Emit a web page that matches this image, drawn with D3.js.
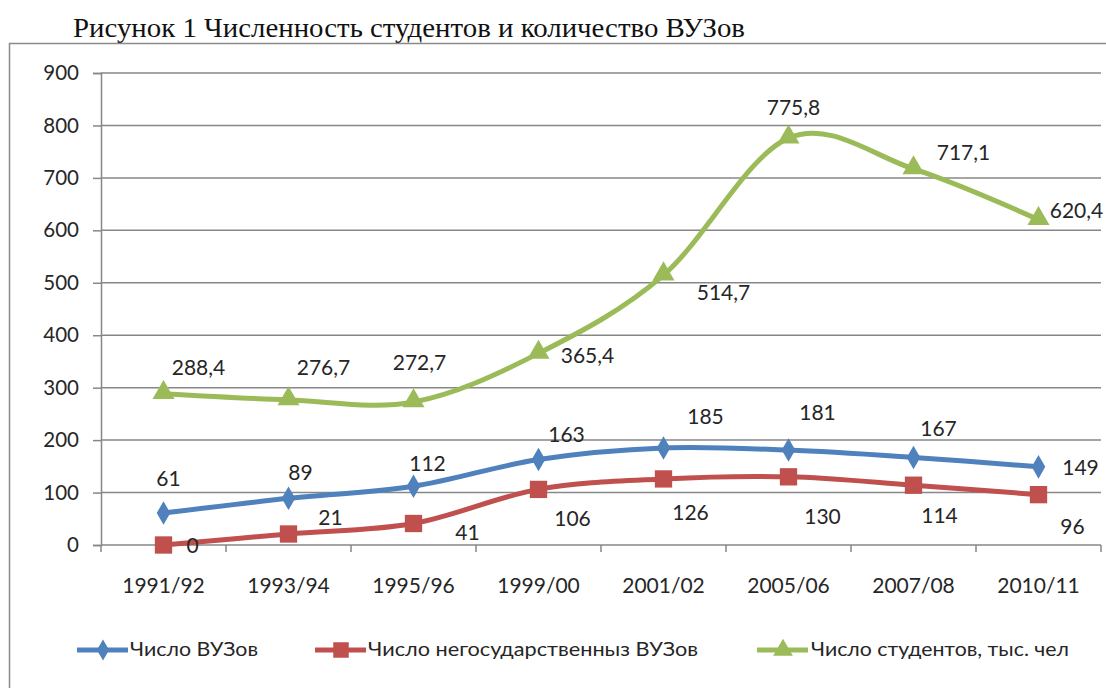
<!DOCTYPE html>
<html lang="ru">
<head>
<meta charset="UTF-8">
<title>Численность студентов и количество ВУЗов</title>
<script src="https://cdnjs.cloudflare.com/ajax/libs/d3/7.8.5/d3.min.js"></script>
<style>
    body { margin: 0; background: #fff; }
    svg { display: block; }
</style>
</head>
<body>
<div id="chart"></div>
<script>
    // data
    var categories = ["1991/92", "1993/94", "1995/96", "1999/00", "2001/02", "2005/06", "2007/08", "2010/11"];
    var vuzTotal = [61, 89, 112, 163, 185, 181, 167, 149];
    var vuzPrivate = [0, 21, 41, 106, 126, 130, 114, 96];
    var students = [288.4, 276.7, 272.7, 365.4, 514.7, 775.8, 717.1, 620.4];
    var yTicks = [0, 100, 200, 300, 400, 500, 600, 700, 800, 900];
    var seriesNames = ["Число ВУЗов", "Число негосударственныз ВУЗов", "Число студентов, тыс. чел"];

    // where each data label sits relative to its point (dx, dy) - layout only
    var offTotal = [[5,-34],[12,-26],[14,-23],[28,-25],[42,-31],[29,-37],[25,-29],[42,1]];
    var offPrivate = [[29,1],[42,-16],[54,9],[34,29],[27,34],[34,40],[26,30],[34,32]];
    var offStudents = [[35,-26],[35,-32],[6,-39],[49,2],[60,18],[5,-30],[50,-16],[38,-9]];

    var width = 1106, height = 688;
    var svg = d3.select("#chart").append("svg")
        .attr("width", width)
        .attr("height", height);

    // title above the frame
    svg.append("text")
        .attr("x", 73)
        .attr("y", 37)
        .attr("font-family", "Liberation Serif, Times New Roman, serif")
        .attr("font-size", 27)
        .attr("textLength", 672)
        .attr("lengthAdjust", "spacingAndGlyphs")
        .attr("fill", "#111")
        .text("Рисунок 1 Численность студентов и количество ВУЗов");

    // chart frame (runs off the right and bottom edges)
    svg.append("rect")
        .attr("x", 9.5).attr("y", 43.5)
        .attr("width", 1200).attr("height", 700)
        .attr("fill", "none")
        .attr("stroke", "#8a8a8a")
        .attr("stroke-width", 1.5);

    var x = d3.scaleBand().domain(categories).range([101, 1101]);
    var y = d3.scaleLinear().domain([0, 900]).range([545, 73]);
    var cx = function(c){ return x(c) + x.bandwidth() / 2; };

    var font = "Lato, Carlito, Calibri, sans-serif";
    var gray = "#878787";
    var ink = "#262626";

    // gridlines
    svg.append("g").selectAll("line")
        .data(yTicks)
        .enter().append("line")
        .attr("x1", 101).attr("x2", 1101)
        .attr("y1", function(d){ return y(d); })
        .attr("y2", function(d){ return y(d); })
        .attr("stroke", gray)
        .attr("stroke-width", 1.5);

    // y axis
    var yAxis = svg.append("g")
        .attr("transform", "translate(101,0)")
        .call(d3.axisLeft(y).tickValues(yTicks).tickSize(8).tickPadding(14));
    yAxis.select(".domain").attr("stroke", gray).attr("stroke-width", 1.5);
    yAxis.selectAll(".tick line").attr("stroke", gray).attr("stroke-width", 1.5);
    yAxis.selectAll(".tick text")
        .attr("font-family", font).attr("font-size", 20.5).attr("fill", ink);

    // x axis: labels centred, ticks on the band edges
    var xAxis = svg.append("g")
        .attr("transform", "translate(0,545)")
        .call(d3.axisBottom(x).tickSize(0).tickPadding(33));
    xAxis.select(".domain").remove();
    xAxis.selectAll(".tick text")
        .attr("font-family", font).attr("font-size", 21).attr("fill", ink);
    var edges = categories.map(function(c){ return x(c); }).concat([x.range()[1]]);
    svg.append("g").selectAll("line")
        .data(edges)
        .enter().append("line")
        .attr("x1", function(d){ return d; }).attr("x2", function(d){ return d; })
        .attr("y1", 545).attr("y2", 552)
        .attr("stroke", gray).attr("stroke-width", 1.5);

    var series = [
        { name: seriesNames[0], values: vuzTotal, color: "#4F81BD", symbol: d3.symbolDiamond, size: 160, offs: offTotal },
        { name: seriesNames[1], values: vuzPrivate, color: "#C0504D", symbol: d3.symbolSquare, size: 300, offs: offPrivate },
        { name: seriesNames[2], values: students, color: "#9BBB59", symbol: d3.symbolTriangle, size: 210, offs: offStudents }
    ];

    var line = d3.line()
        .x(function(d, i){ return cx(categories[i]); })
        .y(function(d){ return y(d); })
        .curve(d3.curveCardinal.tension(0));

    var fmt = function(v){ return String(v).replace(".", ","); };

    series.forEach(function(s){
        var g = svg.append("g");
        g.append("path")
            .attr("d", line(s.values))
            .attr("fill", "none")
            .attr("stroke", s.color)
            .attr("stroke-width", 5)
            .attr("stroke-linejoin", "round")
            .attr("stroke-linecap", "round");

        g.selectAll(".m")
            .data(s.values)
            .enter().append("path")
            .attr("d", d3.symbol().type(s.symbol).size(s.size))
            .attr("transform", function(d, i){
                var dy = s.symbol === d3.symbolTriangle ? -1 : 0;
                return "translate(" + cx(categories[i]) + "," + (y(d) + dy) + ")";
            })
            .attr("fill", s.color);

        g.selectAll(".lbl")
            .data(s.values)
            .enter().append("text")
            .attr("x", function(d, i){ return cx(categories[i]) + s.offs[i][0]; })
            .attr("y", function(d, i){ return y(d) + s.offs[i][1]; })
            .attr("dy", "0.35em")
            .attr("text-anchor", "middle")
            .attr("font-family", font)
            .attr("font-size", 21)
            .attr("fill", ink)
            .text(fmt);
    });

    // legend
    var legendPos = [{ x0: 77, tx: 130, w: 128 }, { x0: 315, tx: 368, w: 330 }, { x0: 757, tx: 811, w: 258 }];
    var lg = svg.append("g").attr("transform", "translate(0,650)");
    series.forEach(function(s, i){
        var p = legendPos[i];
        lg.append("line")
            .attr("x1", p.x0).attr("x2", p.x0 + 51)
            .attr("y1", 0).attr("y2", 0)
            .attr("stroke", s.color).attr("stroke-width", 5);
        lg.append("path")
            .attr("d", d3.symbol().type(s.symbol).size(s.size * 0.8))
            .attr("transform", "translate(" + (p.x0 + 26) + ",0)")
            .attr("fill", s.color);
        lg.append("text")
            .attr("x", p.tx).attr("y", 0).attr("dy", "0.35em")
            .attr("font-family", font).attr("font-size", 18.5)
            .attr("textLength", p.w)
            .attr("lengthAdjust", "spacingAndGlyphs")
            .attr("fill", ink)
            .text(s.name);
    });
</script>
</body>
</html>
